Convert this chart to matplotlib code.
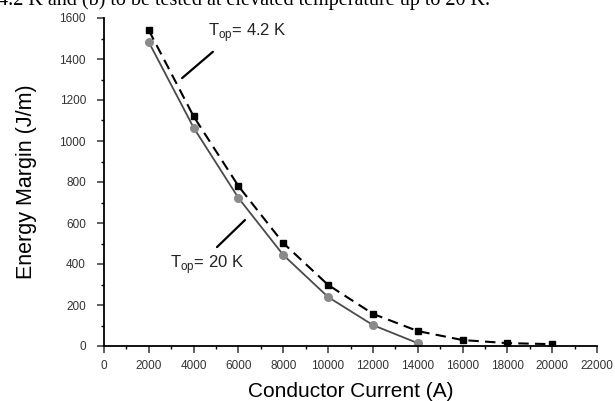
import matplotlib
matplotlib.use("Agg")
import matplotlib.pyplot as plt
from matplotlib.ticker import MultipleLocator

plt.rcParams['font.family'] = ['Liberation Sans', 'DejaVu Sans']

# data
current_42 = [2000, 4000, 6000, 8000, 10000, 12000, 14000, 16000, 18000, 20000]
margin_42 = [1540, 1120, 780, 502, 298, 157, 73, 29, 14, 9]
current_20 = [2000, 4000, 6000, 8000, 10000, 12000, 14000]
margin_20 = [1482, 1065, 722, 444, 239, 102, 14]

fig = plt.figure(figsize=(6.15, 4.01), dpi=100)
ax = fig.add_axes([104/615, 1 - 346/401, 493/615, 328/401])

ax.plot(current_42, margin_42, color='black', ls=(0, (5, 3)), lw=1.5,
        marker='s', ms=5, mfc='black', mec='black', zorder=3)
ax.plot(current_20, margin_20, color='#4a4a4a', ls='-', lw=1.3,
        marker='o', ms=5.5, mfc='#8a8a8a', mec='#8a8a8a', zorder=2)

ax.set_xlim(0, 22000)
ax.set_ylim(0, 1600)
ax.xaxis.set_major_locator(MultipleLocator(2000))
ax.xaxis.set_minor_locator(MultipleLocator(1000))
ax.yaxis.set_major_locator(MultipleLocator(200))
ax.yaxis.set_minor_locator(MultipleLocator(100))
ax.spines['top'].set_visible(False)
ax.spines['right'].set_visible(False)
ax.spines['left'].set_linewidth(1.3)
ax.spines['bottom'].set_linewidth(1.3)
ax.tick_params(which='major', length=5, width=1.1, labelsize=8.5, pad=5,
               color='#333333', labelcolor='#333333')
ax.tick_params(axis='y', which='major', pad=8)
ax.tick_params(which='minor', length=2.5, width=1.0)

ax.set_xlabel('Conductor Current (A)', fontsize=15, labelpad=7)
ax.set_ylabel('Energy Margin (J/m)', fontsize=15.5, labelpad=16)

# annotations
ax.annotate('', xy=(3391, 1298), xytext=(4953, 1444),
            arrowprops=dict(arrowstyle='-', color='black', lw=1.6))
ax.text(4640, 1527, r'T$_{\mathregular{op}}$= 4.2 K', fontsize=12, va='center', ha='left',
        color='#222222')
ax.annotate('', xy=(6381, 624), xytext=(4953, 473),
            arrowprops=dict(arrowstyle='-', color='black', lw=1.6))
ax.text(2945, 395, r'T$_{\mathregular{op}}$= 20 K', fontsize=12, va='center', ha='left',
        color='#222222')

# clipped caption line from the page above
fig.text(-0.004, 1 - 5/401, '4.2 K and (b) to be tested at elevated temperature up to 20 K.',
         family='Liberation Serif', fontsize=14.5, va='baseline', ha='left')

fig.savefig('out.png', dpi=100)
